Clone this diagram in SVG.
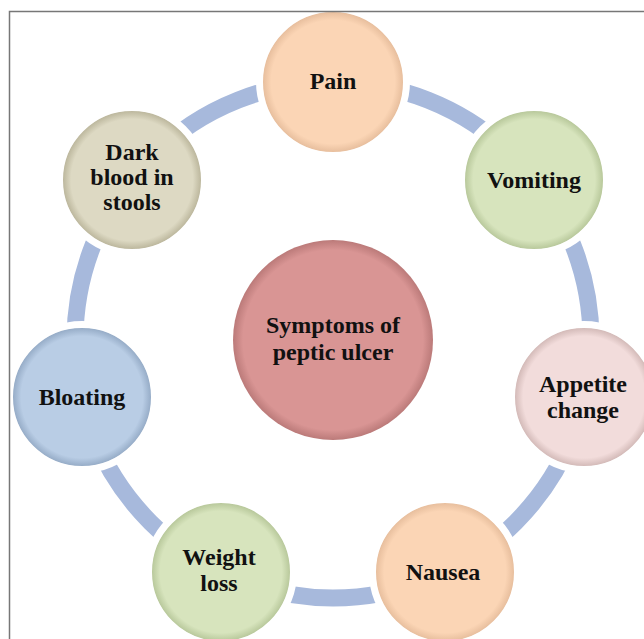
<svg xmlns="http://www.w3.org/2000/svg" width="644" height="639" viewBox="0 0 644 639">
<defs>
<style>
text{font-family:"Liberation Serif","Times New Roman",serif;font-weight:bold;font-size:24px;fill:#111;text-anchor:middle}
.node{stroke:#fff;stroke-width:7}
</style>
<radialGradient id="gPeach" r="50%"><stop offset="0.84" stop-color="#fbd5b5"/><stop offset="0.95" stop-color="#e8bf9e"/><stop offset="1" stop-color="#fff"/></radialGradient>
<radialGradient id="gGreen" r="50%"><stop offset="0.84" stop-color="#d7e4bd"/><stop offset="0.95" stop-color="#b9c99c"/><stop offset="1" stop-color="#fff"/></radialGradient>
<radialGradient id="gPink" r="50%"><stop offset="0.84" stop-color="#f2dcdb"/><stop offset="0.95" stop-color="#d4bbb9"/><stop offset="1" stop-color="#fff"/></radialGradient>
<radialGradient id="gBlue" r="50%"><stop offset="0.84" stop-color="#b9cde5"/><stop offset="0.95" stop-color="#97adc8"/><stop offset="1" stop-color="#fff"/></radialGradient>
<radialGradient id="gTan" r="50%"><stop offset="0.84" stop-color="#ddd9c3"/><stop offset="0.95" stop-color="#bdb89e"/><stop offset="1" stop-color="#fff"/></radialGradient>
<radialGradient id="gRed" r="50%"><stop offset="0.9" stop-color="#d99594"/><stop offset="1" stop-color="#bb7a79"/></radialGradient>
</defs>
<rect width="644" height="639" fill="#fff"/>
<g id="connectors">
<circle cx="333" cy="340" r="258" fill="none" stroke="#a7b9dc" stroke-width="17"/>
</g>
<g id="center">
<circle cx="333" cy="340" r="100" fill="url(#gRed)"/>
<text x="333" y="333">Symptoms of</text>
<text x="333" y="360">peptic ulcer</text>
</g>
<g id="pain">
<circle class="node" cx="333" cy="82" r="73.5" fill="url(#gPeach)"/>
<text x="333" y="89">Pain</text>
</g>
<g id="vomiting">
<circle class="node" cx="534" cy="180" r="72.5" fill="url(#gGreen)"/>
<text x="534" y="188">Vomiting</text>
</g>
<g id="appetite">
<circle class="node" cx="584" cy="397" r="72.5" fill="url(#gPink)"/>
<text x="583" y="392">Appetite</text>
<text x="583" y="418">change</text>
</g>
<g id="nausea">
<circle class="node" cx="445" cy="572" r="72.5" fill="url(#gPeach)"/>
<text x="443" y="580">Nausea</text>
</g>
<g id="weight">
<circle class="node" cx="221" cy="572" r="72.5" fill="url(#gGreen)"/>
<text x="219" y="565">Weight</text>
<text x="219" y="591">loss</text>
</g>
<g id="bloating">
<circle class="node" cx="82" cy="397" r="72.5" fill="url(#gBlue)"/>
<text x="82" y="405">Bloating</text>
</g>
<g id="darkblood">
<circle class="node" cx="132" cy="180" r="72.5" fill="url(#gTan)"/>
<text x="132" y="160">Dark</text>
<text x="132" y="185">blood in</text>
<text x="132" y="210">stools</text>
</g>
<path d="M9.5 639V11.5H644" fill="none" stroke="#777" stroke-width="1.5"/>
</svg>
